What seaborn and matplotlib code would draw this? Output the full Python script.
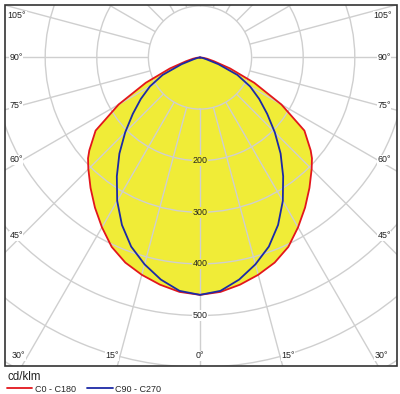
import numpy as np
import pandas as pd
import matplotlib
matplotlib.use('Agg')
import matplotlib.pyplot as plt
from matplotlib.patches import Rectangle
import seaborn as sns

# Intensity data in cd/klm, gamma 0 = nadir, planes are symmetric
gamma_c0 = [0, 5, 10, 15, 20, 25, 30, 35, 40, 45, 48, 50, 55, 60, 65, 70, 75, 80, 85, 90]
cd_c0 = [460, 456, 447, 436, 423, 405, 380, 355, 330, 306, 292, 280, 247, 182, 116, 62, 28, 14, 6, 0]

gamma_c90 = [0, 5, 10, 15, 20, 25, 30, 35, 40, 45, 50, 55, 60, 65, 70, 75, 80, 85, 90]
cd_c90 = [460, 454, 437, 415, 390, 358, 321, 281, 243, 205, 170, 140, 112, 80, 38, 12, 5, 2, 0]

r_ticks = [100, 200, 300, 400, 500, 600, 700]
r_labels = [200, 300, 400, 500]
angle_ticks = [0, 15, 30, 45, 60, 75, 90, 105]

sns.set_style('white')
plt.rcParams['font.family'] = ['Liberation Sans', 'DejaVu Sans']

W, H = 400, 394
fig = plt.figure(figsize=(W / 100, H / 100), dpi=100)

# polar axes bigger than the figure, clipped to the frame afterwards
R = 730
scale = 0.516  # px per cd/klm
cx, cy = 200, 57.5
size = 2 * R * scale
ax = fig.add_axes([(cx - size / 2) / W, (H - cy - size / 2) / H, size / W, size / H],
                  projection='polar')
ax.set_theta_zero_location('S')
ax.set_ylim(0, R)
ax.set_yticks(r_ticks)
ax.set_yticklabels([])
ax.set_xticks([])
ax.spines['polar'].set_visible(False)
ax.set_axisbelow('line')
grid_col = '#cfcfcf'
ax.yaxis.grid(True, color=grid_col, lw=1.0)

def mirror(g, r):
    g = np.asarray(g, dtype=float)
    r = np.asarray(r, dtype=float)
    th = np.deg2rad(np.concatenate([-g[::-1], g[1:]]))
    rr = np.concatenate([r[::-1], r[1:]])
    return th, rr

th0, r0 = mirror(gamma_c0, cd_c0)
th90, r90 = mirror(gamma_c90, cd_c90)
df0 = pd.DataFrame({'theta': th0, 'cd': r0})
df90 = pd.DataFrame({'theta': th90, 'cd': r90})

fills = ax.fill(th0, r0, color='#f0ec37', zorder=1, lw=0)

# radial lines, starting at the first circle
spokes = np.deg2rad(np.arange(0, 360, 15))
vl = ax.vlines(spokes, r_ticks[0], R, colors=grid_col, lw=1.0, zorder=1.6)

sns.lineplot(data=df0, x='theta', y='cd', sort=False, estimator=None, ax=ax,
             color='#e3161c', lw=1.3, zorder=3, label='C0 - C180')
sns.lineplot(data=df90, x='theta', y='cd', sort=False, estimator=None, ax=ax,
             color='#1c2aa6', lw=1.3, zorder=3.1, label='C90 - C270')
ax.set_xlabel('')
ax.set_ylabel('')
handles, labels = ax.get_legend_handles_labels()
if ax.get_legend() is not None:
    ax.get_legend().remove()

texts = []
for rv in r_labels:
    bg = '#f0ec37' if rv < cd_c0[0] else 'white'
    t = ax.text(0, rv, str(rv), ha='center', va='center', fontsize=6.4,
                color='#222222', zorder=4,
                bbox=dict(facecolor=bg, edgecolor='none', pad=0.6))
    texts.append(t)

# frame
fx0, fx1, fy0, fy1 = 5, 397, 5, 366
clip_rect = Rectangle((fx0 / W, (H - fy1) / H), (fx1 - fx0) / W, (fy1 - fy0) / H,
                      transform=fig.transFigure, facecolor='none', edgecolor='none')
frame = Rectangle((fx0 / W, (H - fy1) / H), (fx1 - fx0) / W, (fy1 - fy0) / H,
                  transform=fig.transFigure, fill=False, edgecolor='#333333',
                  lw=1.2, zorder=10)
fig.add_artist(frame)

# angle labels at the frame
left_pos = {0: (200, 356), 15: (112, 356), 30: (18.5, 356), 45: (16, 236),
            60: (16, 160), 75: (16, 105), 90: (16, 58), 105: (17, 16)}
for a in angle_ticks:
    x, y = left_pos[a]
    xs = [x] if a == 0 else [x, W - x]
    for xx in xs:
        fig.text(xx / W, 1 - y / H, f'{a}°', ha='center', va='center', fontsize=6.4,
                 color='#222222', zorder=11,
                 bbox=dict(facecolor='white', edgecolor='none', pad=0.5))

fig.text(8 / W, 1 - 377 / H, 'cd/klm', ha='left', va='center', fontsize=8.3, color='#222222')
fig.legend(handles, labels, loc='center left', bbox_to_anchor=(7 / W, 1 - 389 / H),
           ncol=2, frameon=False, fontsize=6.5, handlelength=2.8, handletextpad=0.25,
           columnspacing=1.3, borderpad=0, borderaxespad=0)

fig.canvas.draw()
for art in fills + list(ax.lines) + [vl] + texts:
    art.set_clip_path(clip_rect)
ax.yaxis.set_clip_path(clip_rect)
for gl in ax.yaxis.get_gridlines():
    gl.set_clip_path(clip_rect)

fig.savefig('out.png', dpi=100)
